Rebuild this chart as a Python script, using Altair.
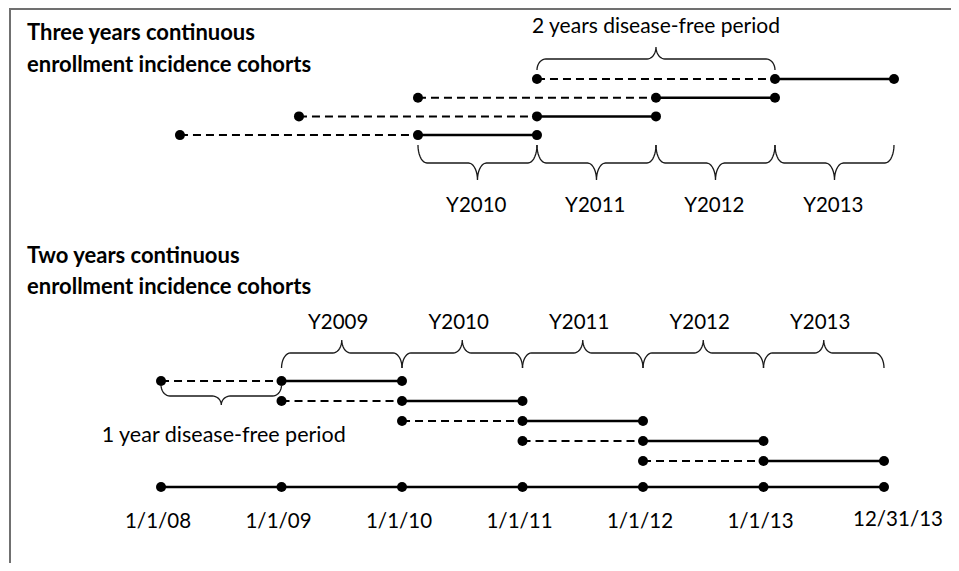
import altair as alt
import pandas as pd
import numpy as np

W, H = 943, 555

# ---------------- data ----------------
# three-year cohorts (rows listed top to bottom): start of 2-year disease-free period
top_cohort_start = [2011, 2010, 2009, 2008]
top_free_len = 2
top_follow_len = 1
top_year_starts = [2010, 2011, 2012, 2013]
top_year_labels = ["Y2010", "Y2011", "Y2012", "Y2013"]

# two-year cohorts (rows listed top to bottom)
bot_cohort_start = [2008, 2009, 2010, 2011, 2012]
bot_free_len = 1
bot_follow_len = 1
bot_year_starts = [2009, 2010, 2011, 2012, 2013]
bot_year_labels = ["Y2009", "Y2010", "Y2011", "Y2012", "Y2013"]

axis_years = [2008, 2009, 2010, 2011, 2012, 2013, 2014]
axis_labels = ["1/1/08", "1/1/09", "1/1/10", "1/1/11", "1/1/12", "1/1/13", "12/31/13"]

# ---------------- layout ----------------
TOP_ROW0, TOP_STEP = 71, 18.7
BOT_ROW0, BOT_STEP = 373, 20.0
AXIS_Y = 479
FONT = "Lato"

xs_top = alt.Scale(domain=[2006.555, 2014.479], nice=False, zero=False)
xs_bot = alt.Scale(domain=[2006.730, 2014.556], nice=False, zero=False)
ys = alt.Scale(domain=[0, H], reverse=True, nice=False, zero=False)


def brace(x0, x1, y_end, y_line, y_tip, rx, bid, n=10):
    xm = (x0 + x1) / 2
    pts = []
    t = np.linspace(0, np.pi / 2, n)
    for a in t:
        pts.append((x0 + rx * (1 - np.cos(a)), y_end + (y_line - y_end) * np.sin(a)))
    for a in t:
        pts.append((xm - rx + rx * np.sin(a), y_line + (y_tip - y_line) * (1 - np.cos(a))))
    for a in t[::-1]:
        pts.append((xm + rx - rx * np.sin(a), y_line + (y_tip - y_line) * (1 - np.cos(a))))
    for a in t[::-1]:
        pts.append((x1 - rx * (1 - np.cos(a)), y_end + (y_line - y_end) * np.sin(a)))
    return [{"x": p[0], "y": p[1], "o": i, "b": bid} for i, p in enumerate(pts)]


def cohort_frames(starts, free_len, follow_len, row0, step):
    seg, pts = [], []
    for i, s in enumerate(starts):
        y = row0 + i * step
        seg.append({"x": s, "x2": s + free_len, "y": y, "k": "dash"})
        seg.append({"x": s + free_len, "x2": s + free_len + follow_len, "y": y, "k": "solid"})
        for v in (s, s + free_len, s + free_len + follow_len):
            pts.append({"x": v, "y": y})
    return pd.DataFrame(seg), pd.DataFrame(pts)


def section_layers(seg, pts, xs):
    dash = alt.Chart(seg[seg.k == "dash"]).mark_rule(
        color="black", strokeWidth=2, strokeDash=[8, 5]
    ).encode(
        x=alt.X("x:Q", scale=xs, axis=None),
        x2="x2:Q",
        y=alt.Y("y:Q", scale=ys, axis=None),
    )
    solid = alt.Chart(seg[seg.k == "solid"]).mark_rule(
        color="black", strokeWidth=2.5
    ).encode(
        x=alt.X("x:Q", scale=xs, axis=None),
        x2="x2:Q",
        y=alt.Y("y:Q", scale=ys, axis=None),
    )
    dots = alt.Chart(pts).mark_circle(color="black", opacity=1, size=100).encode(
        x=alt.X("x:Q", scale=xs, axis=None),
        y=alt.Y("y:Q", scale=ys, axis=None),
    )
    return [dash, solid, dots]


def brace_layer(rows, xs):
    return alt.Chart(pd.DataFrame(rows)).mark_line(
        color="#1a1a1a", strokeWidth=1.3, interpolate="linear"
    ).encode(
        x=alt.X("x:Q", scale=xs, axis=None),
        y=alt.Y("y:Q", scale=ys, axis=None),
        order="o:Q",
        detail="b:N",
    )


def text_layer(df, xs, size, bold=False, dx=0):
    return alt.Chart(df).mark_text(
        font=FONT, fontSize=size, fontWeight="bold" if bold else "normal",
        color="black", align="center", baseline="middle", dx=dx
    ).encode(
        x=alt.X("x:Q", scale=xs, axis=None),
        y=alt.Y("y:Q", scale=ys, axis=None),
        text="t:N",
    )


layers = []

# border (top and left)
layers.append(alt.Chart(pd.DataFrame({"a": [0]})).mark_rule(color="#707070", strokeWidth=2).encode(
    x=alt.value(2), y=alt.value(0), y2=alt.value(H)))
layers.append(alt.Chart(pd.DataFrame({"a": [0]})).mark_rule(color="#707070", strokeWidth=2).encode(
    x=alt.value(2), x2=alt.value(W), y=alt.value(1)))

# ---------- top section ----------
seg_t, pts_t = cohort_frames(top_cohort_start, top_free_len, top_follow_len, TOP_ROW0, TOP_STEP)
layers += section_layers(seg_t, pts_t, xs_top)

rx_t = 9 / 119
br = []
for i, y0 in enumerate(top_year_starts):
    br += brace(y0, y0 + 1, 137, 155, 172, rx_t, f"ty{i}")
s0 = top_cohort_start[0]
br += brace(s0, s0 + top_free_len, 62, 51, 39, rx_t, "tfree")
layers.append(brace_layer(br, xs_top))

layers.append(text_layer(pd.DataFrame({
    "x": [y + 0.49 for y in top_year_starts], "y": [198] * 4, "t": top_year_labels}), xs_top, 20.5))
layers.append(text_layer(pd.DataFrame({
    "x": [s0 + top_free_len / 2], "y": [19], "t": ["2 years disease-free period"]}), xs_top, 21))

# ---------- bottom section ----------
seg_b, pts_b = cohort_frames(bot_cohort_start, bot_free_len, bot_follow_len, BOT_ROW0, BOT_STEP)
layers += section_layers(seg_b, pts_b, xs_bot)

# timeline axis
axis_seg = pd.DataFrame({"x": [axis_years[0]], "x2": [axis_years[-1]], "y": [AXIS_Y], "k": ["solid"]})
axis_pts = pd.DataFrame({"x": axis_years, "y": [AXIS_Y] * len(axis_years)})
layers += section_layers(axis_seg, axis_pts, xs_bot)[1:]

rx_b = 9 / 120.5
br = []
for i, y0 in enumerate(bot_year_starts):
    br += brace(y0, y0 + 1, 360, 345, 332, rx_b, f"by{i}")
b0 = bot_cohort_start[0]
br += brace(b0, b0 + bot_free_len, 377, 388, 397, rx_b, "bfree")
layers.append(brace_layer(br, xs_bot))

layers.append(text_layer(pd.DataFrame({
    "x": [y + 0.47 for y in bot_year_starts], "y": [315] * 5, "t": bot_year_labels}), xs_bot, 20.5))
layers.append(text_layer(pd.DataFrame({
    "x": [b0 + 0.52], "y": [428], "t": ["1 year disease-free period"]}), xs_bot, 21.5))

layers.append(text_layer(pd.DataFrame({
    "x": axis_years[:-1], "y": [514] * 6, "t": axis_labels[:-1]}), xs_bot, 20.5, dx=-3))
layers.append(text_layer(pd.DataFrame({
    "x": axis_years[-1:], "y": [512], "t": axis_labels[-1:]}), xs_bot, 20.5, dx=14))

# ---------- titles ----------
titles = pd.DataFrame({
    "t": ["Three years continuous", "enrollment incidence cohorts",
          "Two years continuous", "enrollment incidence cohorts"],
    "y": [25, 57, 248, 279],
})
layers.append(alt.Chart(titles).mark_text(
    font=FONT, fontSize=22, fontWeight="bold", color="black", align="left", baseline="middle"
).encode(
    x=alt.value(19),
    y=alt.Y("y:Q", scale=ys, axis=None),
    text="t:N",
))

chart = alt.layer(*layers).resolve_scale(x="independent").properties(
    width=W, height=H, padding=0,
    autosize=alt.AutoSizeParams(type="none"),
).configure_view(stroke=None)

chart.save("out.html", embed_options={"renderer": "svg", "actions": False})
